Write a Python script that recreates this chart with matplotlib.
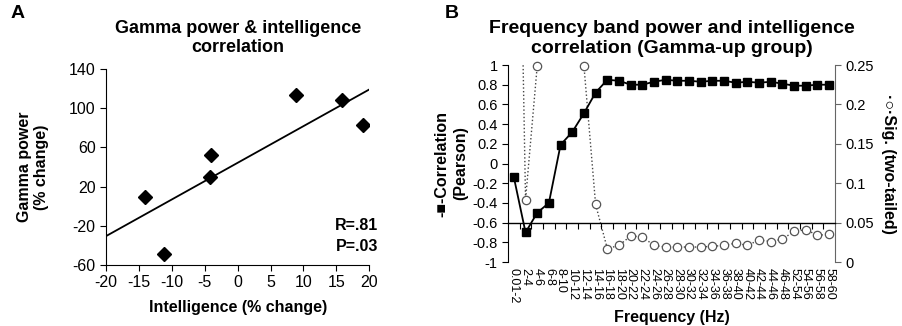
import numpy as np
import matplotlib.pyplot as plt

plt.rcParams['font.family'] = ['Liberation Sans', 'DejaVu Sans']
plt.rcParams['axes.unicode_minus'] = False

# Panel A: intelligence change vs gamma power change
intel = [-14.1, -11.2, -4.1, -4.2, 8.9, 15.9, 19.0]
gamma = [9.8, -48.8, 52.4, 29.6, 113.8, 108.7, 83.1]

# Panel B: frequency bands
bands = ['0.01-2', '2-4', '4-6', '6-8', '8-10', '10-12', '12-14', '14-16',
         '16-18', '18-20', '20-22', '22-24', '24-26', '26-28', '28-30', '30-32',
         '32-34', '34-36', '36-38', '38-40', '40-42', '42-44', '44-46', '46-48',
         '52-54', '54-56', '56-58', '58-60']
corr = [-0.14, -0.70, -0.50, -0.40, 0.19, 0.32, 0.51, 0.72,
        0.85, 0.84, 0.80, 0.80, 0.83, 0.85, 0.84, 0.84,
        0.83, 0.84, 0.84, 0.82, 0.83, 0.82, 0.83, 0.81,
        0.79, 0.79, 0.80, 0.80]
sig = [0.90, 0.079, 0.249, 0.60, 0.85, 0.55, 0.249, 0.073,
       0.017, 0.021, 0.033, 0.032, 0.021, 0.019, 0.019, 0.019,
       0.019, 0.020, 0.021, 0.024, 0.021, 0.028, 0.026, 0.029,
       0.039, 0.041, 0.034, 0.035]

fig = plt.figure(figsize=(9.03, 3.26), dpi=100)

# ---------- Panel A ----------
axA = fig.add_axes([0.1174, 0.1871, 0.2916, 0.601])
axA.plot(intel, gamma, 'D', color='black', ms=7.5, ls='none')
k, b = np.polyfit(intel, gamma, 1)
xs = np.array([-20, 20])
axA.plot(xs, k * xs + b, color='black', lw=1.3)
axA.set_xlim(-20, 20)
axA.set_ylim(-60, 140)
axA.set_xticks(range(-20, 21, 5))
axA.set_yticks(range(-60, 141, 40))
for s in ['top', 'right']:
    axA.spines[s].set_visible(False)
axA.tick_params(direction='out', length=4, labelsize=11.5)
axA.set_xlabel('Intelligence (% change)', fontsize=11.5, fontweight='bold', labelpad=7)
axA.set_ylabel('Gamma power\n(% change)', fontsize=11.5, fontweight='bold', labelpad=14)
axA.set_title('Gamma power & intelligence\ncorrelation', fontsize=13,
              fontweight='bold', pad=12)
axA.text(1.034, 0.148, 'R=.81\nP=.03', transform=axA.transAxes, ha='right', va='center',
         fontsize=11.5, fontweight='bold', linespacing=1.45)

# ---------- Panel B ----------
axB = fig.add_axes([0.5626, 0.1963, 0.3621, 0.6043])
x = np.arange(1, len(bands) + 1)
ax2 = axB.twinx()
ax2.plot(x, sig, ls=':', color='#444444', lw=1.0)
sig_vis = np.where(np.array(sig) <= 0.25, sig, np.nan)
ax2.plot(x, sig_vis, 'o', ls='none', ms=6, mfc='white', mec='#555555', mew=0.9,
         clip_on=False)
axB.plot(x, corr, '-s', color='black', ms=5.8, lw=1.3, zorder=5)
axB.set_zorder(ax2.get_zorder() + 1)
axB.patch.set_visible(False)

axB.set_xlim(0.5, len(bands) + 0.5)
axB.set_ylim(-1, 1)
axB.set_yticks(np.arange(-1, 1.01, 0.2))
axB.set_yticklabels(['-1', '-0.8', '-0.6', '-0.4', '-0.2', '0', '0.2', '0.4', '0.6', '0.8', '1'])
ax2.set_ylim(0, 0.25)
ax2.set_yticks([0, 0.05, 0.1, 0.15, 0.2, 0.25])
ax2.set_yticklabels(['0', '0.05', '0.1', '0.15', '0.2', '0.25'])

for a in [axB, ax2]:
    for s in ['top', 'bottom']:
        a.spines[s].set_visible(False)
axB.spines['right'].set_visible(False)
ax2.spines['left'].set_visible(False)
ax2.spines['right'].set_color('#666666')
axB.tick_params(axis='y', direction='out', length=4, labelsize=10.5)
ax2.tick_params(axis='y', direction='out', length=4, labelsize=10.5, color='#666666')

# category labels at bottom, tick marks on the -0.6 crossing line
axB.set_xticks(x)
axB.set_xticklabels(bands, rotation=-90, fontsize=9)
axB.tick_params(axis='x', length=0, pad=4)
sec = axB.secondary_xaxis(0.2)
sec.set_xticks(np.arange(1.5, len(bands), 1.0))
sec.set_xticklabels([])
sec.tick_params(direction='out', length=4)
sec.spines['bottom'].set_linewidth(1.0)

axB.set_xlabel('Frequency (Hz)', fontsize=11.5, fontweight='bold', labelpad=5)
axB.set_ylabel('-■-Correlation\n(Pearson)', fontsize=11.5, fontweight='bold',
               labelpad=3, linespacing=1.3)
ax2.set_ylabel('·○·Sig. (two-tailed)', fontsize=11.5, fontweight='bold',
               rotation=-90, labelpad=16)
axB.set_title('Frequency band power and intelligence\ncorrelation (Gamma-up group)',
              fontsize=14, fontweight='bold', pad=9)

fig.text(0.012, 0.985, 'A', fontsize=14, fontweight='bold', va='top')
fig.text(0.493, 0.985, 'B', fontsize=14, fontweight='bold', va='top')

fig.savefig('out.png', dpi=100)
